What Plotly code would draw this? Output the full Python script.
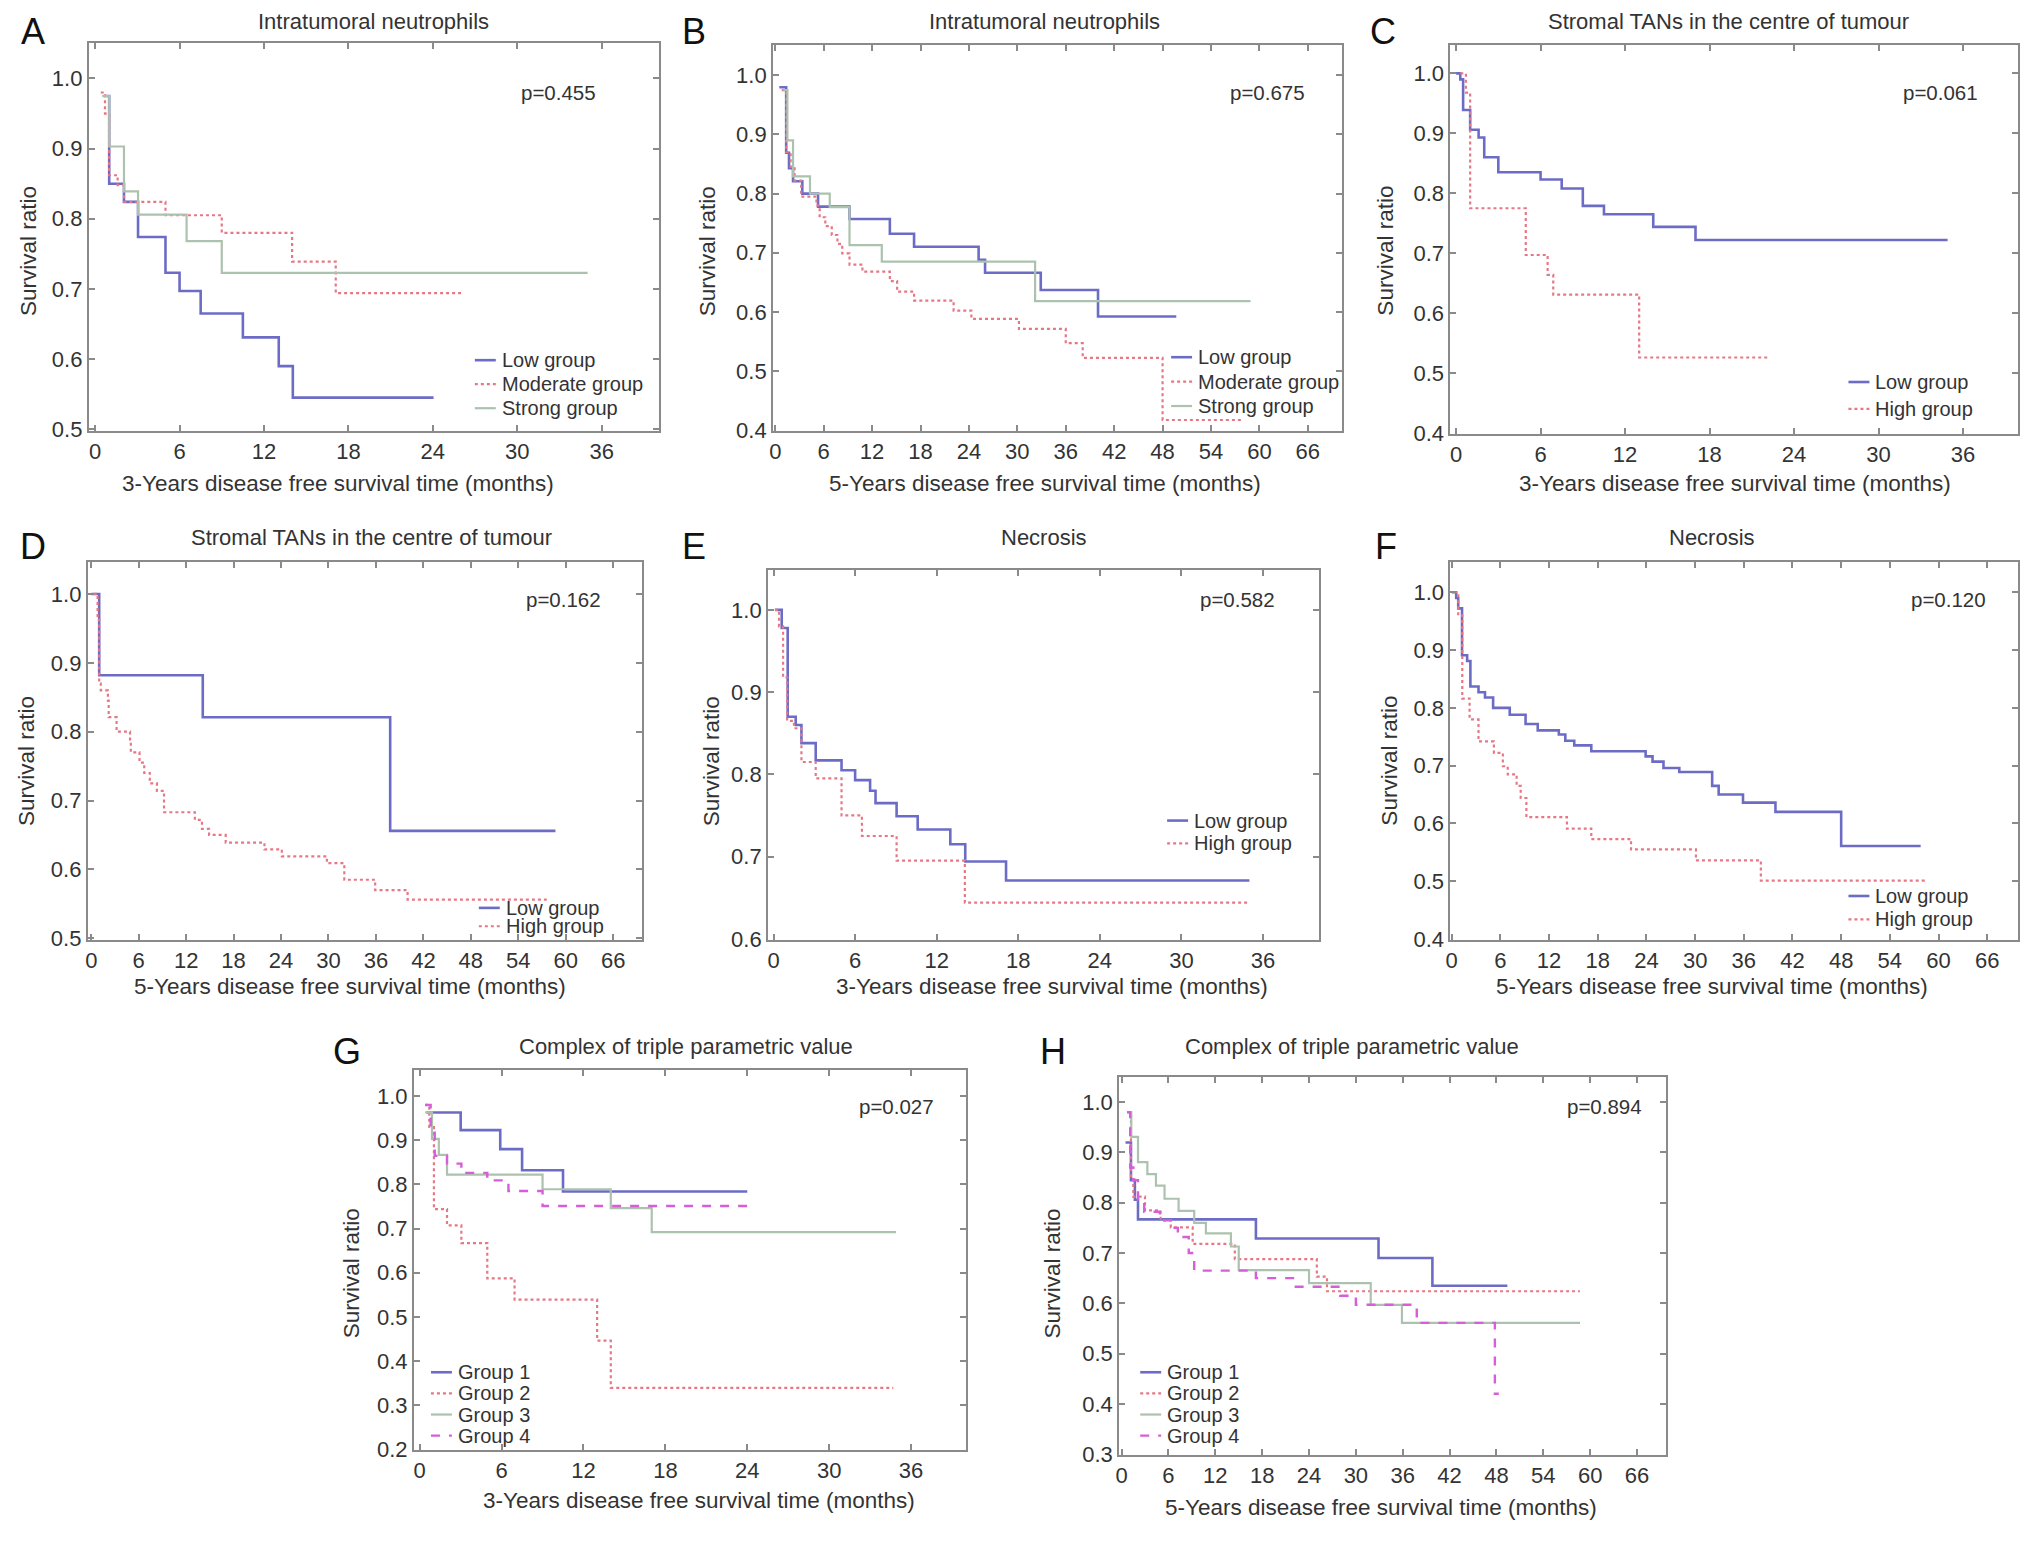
import plotly.graph_objects as go

W, H = 2032, 1545

# ---------------- data (months, survival ratio) ----------------
# Panel A - Intratumoral neutrophils, 3 years
a_low_time = [0.6, 1.0, 2.05, 3.05, 5.0, 6.0, 7.5, 10.5, 13.05, 14.05, 24.05]
a_low_surv = [0.975, 0.850, 0.824, 0.774, 0.723, 0.697, 0.665, 0.631, 0.590, 0.545, 0.545]
a_mod_time = [0.4, 0.7, 1.0, 1.6, 2.05, 5.0, 9.0, 14.0, 17.1, 26.0]
a_mod_surv = [0.98, 0.95, 0.862, 0.848, 0.824, 0.805, 0.780, 0.739, 0.694, 0.694]
a_str_time = [0.5, 1.0, 2.05, 3.05, 6.5, 9.0, 35.0]
a_str_surv = [0.975, 0.903, 0.839, 0.806, 0.768, 0.723, 0.723]

# Panel B - Intratumoral neutrophils, 5 years
b_low_time = [0.5, 1.35, 1.7, 2.2, 3.35, 5.3, 9.2, 14.2, 17.2, 25.2, 26.0, 32.9, 40.0, 49.7]
b_low_surv = [0.98, 0.869, 0.843, 0.821, 0.800, 0.778, 0.757, 0.732, 0.710, 0.688, 0.666, 0.637, 0.592, 0.592]
b_mod_time = [0.8, 1.35, 1.9, 2.4, 3.2, 5.1, 5.5, 6.2, 7.0, 7.7, 8.3, 9.2, 10.8, 14.2, 15.1, 17.2,
              22.1, 24.3, 30.2, 36.0, 38.1, 48.0, 58.0]
b_mod_surv = [0.975, 0.87, 0.845, 0.822, 0.795, 0.78, 0.76, 0.745, 0.73, 0.715, 0.699, 0.68, 0.668,
              0.652, 0.634, 0.619, 0.602, 0.588, 0.571, 0.547, 0.522, 0.417, 0.417]
b_str_time = [1.0, 1.5, 2.2, 4.3, 6.75, 9.2, 13.2, 32.2, 58.9]
b_str_surv = [0.975, 0.89, 0.829, 0.80, 0.777, 0.713, 0.685, 0.618, 0.618]

# Panel C - Stromal TANs in the centre of tumour, 3 years
c_low_time = [0.0, 0.3, 0.5, 1.0, 1.6, 2.0, 3.0, 6.0, 7.5, 9.0, 10.5, 14.0, 17.0, 34.9]
c_low_surv = [1.0, 0.99, 0.939, 0.906, 0.893, 0.86, 0.835, 0.823, 0.808, 0.779, 0.765, 0.744, 0.722, 0.722]
c_high_time = [0.3, 0.7, 1.0, 4.95, 6.5, 6.9, 13.0, 22.3]
c_high_surv = [1.0, 0.968, 0.775, 0.697, 0.664, 0.631, 0.526, 0.526]

# Panel D - Stromal TANs in the centre of tumour, 5 years
d_low_time = [0.0, 1.0, 14.1, 37.8, 58.7]
d_low_surv = [1.0, 0.882, 0.821, 0.656, 0.656]
d_high_time = [0.3, 0.8, 1.0, 1.2, 2.1, 2.2, 3.2, 4.9, 5.0, 6.1, 6.7, 7.4, 8.3, 9.2, 13.1, 14.0, 14.9,
               17.0, 21.9, 24.1, 29.8, 32.0, 35.9, 40.0, 57.6]
d_high_surv = [1.0, 0.965, 0.87, 0.86, 0.845, 0.821, 0.80, 0.787, 0.77, 0.755, 0.74, 0.725, 0.714,
               0.683, 0.672, 0.659, 0.65, 0.639, 0.629, 0.619, 0.609, 0.585, 0.57, 0.556, 0.556]

# Panel E - Necrosis, 3 years
e_low_time = [0.1, 0.6, 1.04, 1.63, 2.05, 3.1, 5.0, 6.0, 7.1, 7.5, 9.05, 10.6, 13.0, 14.1, 17.1, 35.0]
e_low_surv = [1.0, 0.978, 0.87, 0.86, 0.838, 0.817, 0.805, 0.793, 0.78, 0.765, 0.749, 0.733, 0.715,
              0.694, 0.671, 0.671]
e_high_time = [0.1, 0.4, 0.7, 1.0, 1.5, 2.05, 3.1, 5.0, 6.5, 9.05, 14.07, 34.9]
e_high_surv = [1.0, 0.98, 0.918, 0.865, 0.856, 0.815, 0.795, 0.75, 0.725, 0.695, 0.644, 0.644]

# Panel F - Necrosis, 5 years
f_low_time = [0.0, 0.55, 0.8, 1.27, 1.9, 2.3, 3.3, 4.1, 5.1, 7.15, 9.1, 10.6, 13.2, 14.0, 15.1, 17.2,
              23.9, 24.75, 26.1, 28.05, 32.1, 32.9, 35.9, 39.9, 48.0, 57.8]
f_low_surv = [1.0, 0.99, 0.972, 0.891, 0.881, 0.837, 0.827, 0.818, 0.80, 0.788, 0.772, 0.761, 0.754,
              0.743, 0.735, 0.725, 0.716, 0.707, 0.696, 0.689, 0.665, 0.65, 0.636, 0.62, 0.561, 0.561]
f_high_time = [0.3, 0.8, 1.3, 2.2, 3.3, 5.2, 6.3, 6.9, 8.0, 8.5, 9.2, 14.2, 17.2, 22.1, 30.1, 38.1, 58.6]
f_high_surv = [1.0, 0.96, 0.816, 0.78, 0.742, 0.722, 0.699, 0.685, 0.665, 0.644, 0.611, 0.591, 0.573,
               0.555, 0.536, 0.501, 0.501]

# Panel G - Complex of triple parametric value, 3 years
g_g1_time = [0.5, 3.0, 5.9, 7.5, 10.5, 24.0]
g_g1_surv = [0.963, 0.923, 0.88, 0.832, 0.784, 0.784]
g_g2_time = [0.4, 0.7, 1.04, 2.0, 3.05, 4.95, 6.95, 13.0, 14.0, 34.7]
g_g2_surv = [0.98, 0.93, 0.744, 0.707, 0.667, 0.587, 0.539, 0.446, 0.339, 0.339]
g_g3_time = [0.4, 0.9, 1.4, 2.0, 9.0, 14.0, 17.0, 34.9]
g_g3_surv = [0.963, 0.903, 0.867, 0.822, 0.789, 0.746, 0.692, 0.692]
g_g4_time = [0.4, 0.8, 1.1, 2.0, 3.05, 4.95, 6.5, 9.0, 24.0]
g_g4_surv = [0.98, 0.93, 0.865, 0.847, 0.826, 0.809, 0.785, 0.751, 0.751]

# Panel H - Complex of triple parametric value, 5 years
h_g1_time = [0.5, 1.2, 1.7, 2.1, 17.2, 32.9, 39.8, 49.4]
h_g1_surv = [0.92, 0.845, 0.806, 0.767, 0.729, 0.69, 0.635, 0.635]
h_g2_time = [0.7, 1.2, 1.5, 3.0, 5.0, 6.3, 9.1, 14.5, 25.0, 26.3, 58.7]
h_g2_surv = [0.98, 0.85, 0.812, 0.785, 0.765, 0.751, 0.718, 0.688, 0.653, 0.624, 0.624]
h_g3_time = [0.7, 1.24, 2.1, 3.3, 4.4, 5.5, 7.3, 9.3, 10.8, 14.0, 15.0, 24.0, 31.9, 35.9, 58.7]
h_g3_surv = [0.98, 0.931, 0.881, 0.857, 0.834, 0.808, 0.784, 0.76, 0.739, 0.713, 0.666, 0.64, 0.597,
             0.561, 0.561]
h_g4_time = [0.7, 1.1, 1.5, 2.1, 2.9, 4.9, 6.3, 7.2, 8.6, 9.3, 17.2, 22.1, 28.0, 30.0, 37.8, 47.8, 48.3]
h_g4_surv = [0.98, 0.87, 0.845, 0.805, 0.782, 0.765, 0.75, 0.732, 0.70, 0.665, 0.65, 0.633, 0.615,
             0.597, 0.561, 0.42, 0.42]

titles = ["Intratumoral neutrophils", "Intratumoral neutrophils",
          "Stromal TANs in the centre of tumour", "Stromal TANs in the centre of tumour",
          "Necrosis", "Necrosis",
          "Complex of triple parametric value", "Complex of triple parametric value"]
letters = ["A", "B", "C", "D", "E", "F", "G", "H"]
p_values = ["p=0.455", "p=0.675", "p=0.061", "p=0.162", "p=0.582", "p=0.120", "p=0.027", "p=0.894"]
x_label_3y = "3-Years disease free survival time (months)"
x_label_5y = "5-Years disease free survival time (months)"
y_label = "Survival ratio"

# ---------------- styles ----------------
BLUE = "rgb(108,108,198)"
RED = "rgb(230,120,134)"
GRAY = "rgb(172,194,174)"
MAG = "rgb(214,94,214)"
FONT = "Liberation Sans, Arial, sans-serif"
TXT = "#333333"

S_LOW = dict(color=BLUE, width=2.6, dash="solid")
S_DOT = dict(color=RED, width=2.2, dash="dot")
S_GRAY = dict(color=GRAY, width=2.2, dash="solid")
S_MAG = dict(color=MAG, width=2.4, dash="dash")

# leg = (x of legend text start, y of first entry, entry spacing) in pixels
panels = [
    dict(box=(84, 43, 656, 434), xr=(-0.45, 40.1), yr=(0.498, 1.051), xlab=x_label_3y,
         title_xy=(369, 22), letter_xy=(28, 32), p_xy=(555, 93), xlab_xy=(334, 487), ylab_xy=(23, 253),
         leg=(496, 363, 24.2),
         series=[("Low group", a_low_time, a_low_surv, S_LOW),
                 ("Moderate group", a_mod_time, a_mod_surv, S_DOT),
                 ("Strong group", a_str_time, a_str_surv, S_GRAY)]),
    dict(box=(770, 45, 1340, 434), xr=(-0.27, 70.2), yr=(0.399, 1.052), xlab=x_label_5y,
         title_xy=(1042, 22), letter_xy=(691, 32), p_xy=(1266, 93), xlab_xy=(1043, 487), ylab_xy=(704, 253),
         leg=(1194, 360, 24.6),
         series=[("Low group", b_low_time, b_low_surv, S_LOW),
                 ("Moderate group", b_mod_time, b_mod_surv, S_DOT),
                 ("Strong group", b_str_time, b_str_surv, S_GRAY)]),
    dict(box=(1449, 45, 2018, 437), xr=(-0.4, 39.9), yr=(0.399, 1.048), xlab=x_label_3y,
         title_xy=(1728, 22), letter_xy=(1381, 32), p_xy=(1940, 93), xlab_xy=(1734, 487), ylab_xy=(1383, 253),
         leg=(1873, 385, 27),
         series=[("Low group", c_low_time, c_low_surv, S_LOW),
                 ("High group", c_high_time, c_high_surv, S_DOT)]),
    dict(box=(83, 566, 639, 947), xr=(-0.44, 69.7), yr=(0.498, 1.047), xlab=x_label_5y,
         title_xy=(367, 542), letter_xy=(28, 551), p_xy=(560, 604), xlab_xy=(346, 994), ylab_xy=(21, 767),
         leg=(500, 915, 18.5),
         series=[("Low group", d_low_time, d_low_surv, S_LOW),
                 ("High group", d_high_time, d_high_surv, S_DOT)]),
    dict(box=(765, 574, 1317, 947), xr=(-0.4, 40.1), yr=(0.599, 1.049), xlab=x_label_3y,
         title_xy=(1042, 542), letter_xy=(691, 551), p_xy=(1236, 604), xlab_xy=(1050, 994), ylab_xy=(708, 767),
         leg=(1190, 827, 23),
         series=[("Low group", e_low_time, e_low_surv, S_LOW),
                 ("High group", e_high_time, e_high_surv, S_DOT)]),
    dict(box=(1449, 566, 2018, 947), xr=(-0.16, 69.8), yr=(0.399, 1.053), xlab=x_label_5y,
         title_xy=(1711, 542), letter_xy=(1384, 551), p_xy=(1948, 604), xlab_xy=(1711, 994), ylab_xy=(1387, 767),
         leg=(1873, 903, 23.5),
         series=[("Low group", f_low_time, f_low_surv, S_LOW),
                 ("High group", f_high_time, f_high_surv, S_DOT)]),
    dict(box=(410, 1078, 963, 1461), xr=(-0.42, 40.0), yr=(0.199, 1.06), xlab=x_label_3y,
         title_xy=(683, 1055), letter_xy=(343, 1060), p_xy=(894, 1115), xlab_xy=(696, 1512), ylab_xy=(347, 1283),
         leg=(452, 1383, 21.3),
         series=[("Group 1", g_g1_time, g_g1_surv, S_LOW),
                 ("Group 2", g_g2_time, g_g2_surv, S_DOT),
                 ("Group 3", g_g3_time, g_g3_surv, S_GRAY),
                 ("Group 4", g_g4_time, g_g4_surv, S_MAG)]),
    dict(box=(1117, 1085, 1665, 1466), xr=(-0.3, 69.7), yr=(0.299, 1.051), xlab=x_label_5y,
         title_xy=(1350, 1055), letter_xy=(1051, 1060), p_xy=(1603, 1115), xlab_xy=(1379, 1519), ylab_xy=(1050, 1283),
         leg=(1163, 1383, 21.3),
         series=[("Group 1", h_g1_time, h_g1_surv, S_LOW),
                 ("Group 2", h_g2_time, h_g2_surv, S_DOT),
                 ("Group 3", h_g3_time, h_g3_surv, S_GRAY),
                 ("Group 4", h_g4_time, h_g4_surv, S_MAG)]),
]


def fx(px):
    return px / W


def fy(py):
    return 1 - py / H


fig = go.Figure()
layout = dict(width=W, height=H, margin=dict(l=0, r=0, t=0, b=0),
              paper_bgcolor="white", plot_bgcolor="white", showlegend=False,
              font=dict(family=FONT, color=TXT), annotations=[], shapes=[])

for i, p in enumerate(panels):
    n = i + 1
    sfx = "" if n == 1 else str(n)
    for name, t, s, st in p["series"]:
        fig.add_trace(go.Scatter(x=t, y=s, mode="lines", name=name, line=dict(shape="hv", **st),
                                 xaxis="x" + sfx, yaxis="y" + sfx, hoverinfo="skip"))
    x0, y0, x1, y1 = p["box"]
    axis_common = dict(showline=True, linecolor="#8a8a8a", linewidth=2, mirror="ticks",
                       ticks="inside", ticklen=6, tickwidth=1.5, tickcolor="#8a8a8a",
                       showgrid=False, zeroline=False,
                       tickfont=dict(family=FONT, size=22, color=TXT))
    layout["xaxis" + sfx] = dict(domain=[fx(x0), fx(x1)], range=list(p["xr"]), anchor="y" + sfx,
                                 tick0=0, dtick=6, **axis_common)
    layout["yaxis" + sfx] = dict(domain=[fy(y1), fy(y0)], range=list(p["yr"]), anchor="x" + sfx,
                                 tick0=0, dtick=0.1, tickformat=".1f", **axis_common)
    ann = layout["annotations"]
    shp = layout["shapes"]

    # legend: key line + label for every series
    lx, ly, gap = p["leg"]
    for k, (name, t, s, st) in enumerate(p["series"]):
        yk = ly + k * gap
        shp.append(dict(type="line", xref="paper", yref="paper",
                        x0=fx(lx - 25), x1=fx(lx - 4), y0=fy(yk), y1=fy(yk),
                        line=dict(color=st["color"], width=st["width"], dash=st["dash"])))
        ann.append(dict(text=name, x=fx(lx), y=fy(yk), xref="paper", yref="paper",
                        showarrow=False, xanchor="left", yanchor="middle",
                        font=dict(family=FONT, size=20, color=TXT)))

    tx, ty = p["title_xy"]
    ann.append(dict(text=titles[i], x=fx(tx), y=fy(ty), xref="paper", yref="paper",
                    showarrow=False, xanchor="center", yanchor="middle",
                    font=dict(family=FONT, size=22, color=TXT)))
    lxl, lyl = p["letter_xy"]
    ann.append(dict(text=letters[i], x=fx(lxl), y=fy(lyl), xref="paper", yref="paper",
                    showarrow=False, xanchor="center", yanchor="middle",
                    font=dict(family=FONT, size=36, color="#111111")))
    px_, py_ = p["p_xy"]
    ann.append(dict(text=p_values[i], x=fx(px_), y=fy(py_), xref="paper", yref="paper",
                    showarrow=False, xanchor="center", yanchor="middle",
                    font=dict(family=FONT, size=20.5, color=TXT)))
    xx, xy = p["xlab_xy"]
    ann.append(dict(text=p["xlab"], x=fx(xx), y=fy(xy), xref="paper", yref="paper",
                    showarrow=False, xanchor="center", yanchor="middle",
                    font=dict(family=FONT, size=22.5, color=TXT)))
    yx, yy = p["ylab_xy"]
    ann.append(dict(text=y_label, x=fx(yx), y=fy(yy), xref="paper", yref="paper",
                    showarrow=False, xanchor="center", yanchor="middle", textangle=-90,
                    font=dict(family=FONT, size=22.5, color=TXT)))

fig.update_layout(**layout)
fig.write_html("out.html", config={"displayModeBar": False},
               post_script="document.body.style.margin='0';")
